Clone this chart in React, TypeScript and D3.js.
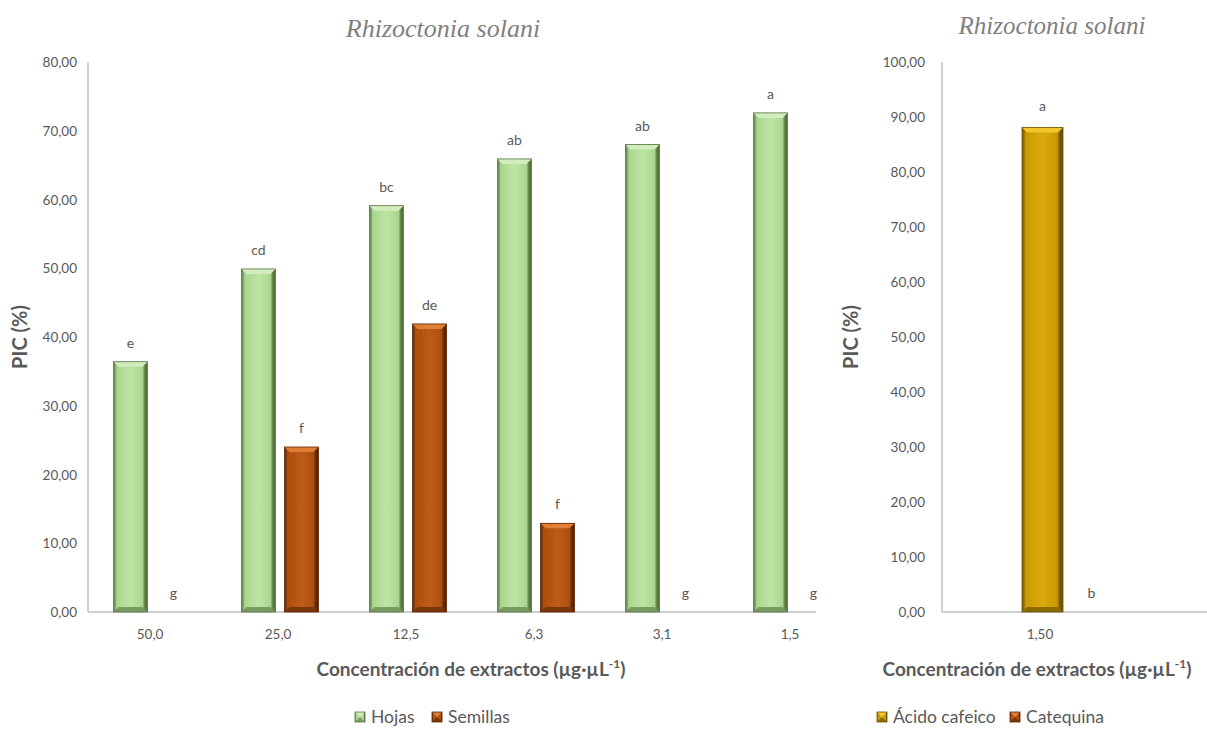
import React from "react";
import * as d3 from "d3";

const categories = ["50,0", "25,0", "12,5", "6,3", "3,1", "1,5"];
const hojas = [36.4, 49.9, 59.1, 65.9, 68.0, 72.6];
const semillas = [0, 24.0, 41.9, 12.9, 0, 0];
const hojasLabels = ["e", "cd", "bc", "ab", "ab", "a"];
const semillasLabels = ["g", "f", "de", "f", "g", "g"];
const leftTicks = [0, 10, 20, 30, 40, 50, 60, 70, 80];

const rightCategories = ["1,50"];
const acido = [88.1];
const catequina = [0];
const acidoLabels = ["a"];
const catequinaLabels = ["b"];
const rightTicks = [0, 10, 20, 30, 40, 50, 60, 70, 80, 90, 100];

const SANS = "Lato, 'Open Sans', sans-serif";
const GRAY = "#595959";

type Pal = { id: string; main: string; light: string; dark: string; top: string; bottom: string };
const green: Pal = { id: "g", main: "#a9d78e", light: "#bfe3a6", dark: "#55753f", top: "#d2ecbf", bottom: "#7a9c63" };
const brown: Pal = { id: "b", main: "#ad4e0e", light: "#bd5c18", dark: "#5a2604", top: "#e07e36", bottom: "#7a3508" };
const gold: Pal = { id: "o", main: "#c99a02", light: "#d9a90e", dark: "#6e5300", top: "#f2c52a", bottom: "#8c6a00" };

function Grad({ p }: { p: Pal }) {
  return (
    <linearGradient id={"grad-" + p.id} x1="0" x2="1" y1="0" y2="0">
      <stop offset="0" stopColor={p.dark} />
      <stop offset="0.1" stopColor={p.main} />
      <stop offset="0.5" stopColor={p.light} />
      <stop offset="0.85" stopColor={p.main} />
      <stop offset="0.93" stopColor={p.dark} />
      <stop offset="1" stopColor={p.dark} />
    </linearGradient>
  );
}

function BevelBar({ x, y, w, h, p }: { x: number; y: number; w: number; h: number; p: Pal }) {
  if (h <= 0) return null;
  const b = Math.min(5, h / 2);
  return (
    <g>
      <rect x={x} y={y} width={w} height={h} fill={`url(#grad-${p.id})`} />
      <polygon points={`${x},${y} ${x + w},${y} ${x + w - b},${y + b} ${x + b},${y + b}`} fill={p.top} />
      <polygon points={`${x},${y + h} ${x + w},${y + h} ${x + w - b},${y + h - b} ${x + b},${y + h - b}`} fill={p.bottom} />
      <rect x={x} y={y} width={w} height={h} fill="none" stroke={p.dark} strokeWidth={0.8} />
    </g>
  );
}

function LegendSwatch({ x, y, p }: { x: number; y: number; p: Pal }) {
  return <BevelBar x={x} y={y} w={10} h={10} p={p} />;
}

function XTitle({ x, y }: { x: number; y: number }) {
  return (
    <text x={x} y={y} textAnchor="middle" fontFamily={SANS} fontWeight="bold" fontSize={19} fill={GRAY}>
      Concentración de extractos (µg·µL
      <tspan fontSize={12} dy={-8}>-1</tspan>
      <tspan dy={8}>)</tspan>
    </text>
  );
}

export default function App() {
  const top = 62;
  const bottom = 612;

  // Left chart
  const yL = d3.scaleLinear().domain([0, 80]).range([bottom, top]);
  const x0 = d3.scaleBand<string>().domain(categories).range([88, 856]);
  const x1 = d3.scaleBand<string>().domain(["Hojas", "Semillas"]).range([-38.5, 38.5]).paddingInner(0.2093);

  // Right chart
  const yR = d3.scaleLinear().domain([0, 100]).range([bottom, top]);
  const r0 = d3.scaleBand<string>().domain(rightCategories).range([942, 1138]);
  const r1 = d3.scaleBand<string>().domain(["Acido", "Catequina"]).range([-18, 72]).paddingInner(0.163);

  const fmt = (v: number) => v.toFixed(2).replace(".", ",");
  const serif = "'Liberation Serif', 'Times New Roman', serif";

  return (
    <svg width={1207} height={732} style={{ position: "absolute", left: 0, top: 0, background: "#fff" }}>
      <defs>
        <Grad p={green} />
        <Grad p={brown} />
        <Grad p={gold} />
      </defs>
      <rect x={0} y={0} width={1207} height={732} fill="#fff" />

      {/* ---------- Left chart ---------- */}
      <text x={443} y={37} textAnchor="middle" fontFamily={serif} fontStyle="italic" fontSize={26} fill="#7f7f7f">
        Rhizoctonia solani
      </text>
      <line x1={88} x2={88} y1={top} y2={bottom} stroke="#bfbfbf" strokeWidth={1.5} />
      <line x1={88} x2={816} y1={bottom} y2={bottom} stroke="#bfbfbf" strokeWidth={1.5} />
      {leftTicks.map((t) => (
        <text key={t} x={77} y={yL(t) + 5} textAnchor="end" fontFamily={SANS} fontSize={13.5} fill={GRAY}>
          {fmt(t)}
        </text>
      ))}
      {categories.map((c, i) => {
        const cx = x0(c)! + x0.bandwidth() / 2;
        const hx = cx + x1("Hojas")!;
        const sx = cx + x1("Semillas")!;
        const bw = x1.bandwidth();
        return (
          <g key={c}>
            <BevelBar x={hx} y={yL(hojas[i])} w={bw} h={bottom - yL(hojas[i])} p={green} />
            <BevelBar x={sx} y={yL(semillas[i])} w={bw} h={bottom - yL(semillas[i])} p={brown} />
            <text x={hx + bw / 2} y={yL(hojas[i]) - 14} textAnchor="middle" fontFamily={SANS} fontSize={14} fill={GRAY}>
              {hojasLabels[i]}
            </text>
            <text x={sx + bw / 2} y={yL(semillas[i]) - 14} textAnchor="middle" fontFamily={SANS} fontSize={14} fill={GRAY}>
              {semillasLabels[i]}
            </text>
            <text x={cx - 2} y={bottom + 27} textAnchor="middle" fontFamily={SANS} fontSize={13.5} fill={GRAY}>
              {c}
            </text>
          </g>
        );
      })}
      <text transform={`translate(27,${(top + bottom) / 2}) rotate(-90)`} textAnchor="middle" fontFamily={SANS} fontWeight="bold" fontSize={20} fill={GRAY}>
        PIC (%)
      </text>
      <XTitle x={471} y={676} />
      <LegendSwatch x={355} y={712} p={green} />
      <text x={371} y={723} fontFamily={SANS} fontSize={17.5} fill={GRAY}>Hojas</text>
      <LegendSwatch x={432} y={712} p={brown} />
      <text x={448} y={723} fontFamily={SANS} fontSize={17.5} fill={GRAY}>Semillas</text>

      {/* ---------- Right chart ---------- */}
      <text x={1052} y={34} textAnchor="middle" fontFamily={serif} fontStyle="italic" fontSize={25} fill="#7f7f7f">
        Rhizoctonia solani
      </text>
      <line x1={942} x2={942} y1={top} y2={bottom} stroke="#bfbfbf" strokeWidth={1.5} />
      <line x1={942} x2={1207} y1={bottom} y2={bottom} stroke="#bfbfbf" strokeWidth={1.5} />
      {rightTicks.map((t) => (
        <text key={t} x={925} y={yR(t) + 5} textAnchor="end" fontFamily={SANS} fontSize={13.5} fill={GRAY}>
          {fmt(t)}
        </text>
      ))}
      {rightCategories.map((c, i) => {
        const cx = r0(c)! + r0.bandwidth() / 2;
        const ax = cx + r1("Acido")!;
        const qx = cx + r1("Catequina")!;
        const bw = r1.bandwidth();
        return (
          <g key={c}>
            <BevelBar x={ax} y={yR(acido[i])} w={bw} h={bottom - yR(acido[i])} p={gold} />
            <BevelBar x={qx} y={yR(catequina[i])} w={bw} h={bottom - yR(catequina[i])} p={brown} />
            <text x={ax + bw / 2} y={yR(acido[i]) - 16} textAnchor="middle" fontFamily={SANS} fontSize={14} fill={GRAY}>
              {acidoLabels[i]}
            </text>
            <text x={qx + bw / 2} y={yR(catequina[i]) - 14} textAnchor="middle" fontFamily={SANS} fontSize={14} fill={GRAY}>
              {catequinaLabels[i]}
            </text>
            <text x={cx} y={bottom + 27} textAnchor="middle" fontFamily={SANS} fontSize={13.5} fill={GRAY}>
              {c}
            </text>
          </g>
        );
      })}
      <text transform={`translate(858,${(top + bottom) / 2}) rotate(-90)`} textAnchor="middle" fontFamily={SANS} fontWeight="bold" fontSize={20} fill={GRAY}>
        PIC (%)
      </text>
      <XTitle x={1037} y={676} />
      <LegendSwatch x={877} y={712} p={gold} />
      <text x={893} y={723} fontFamily={SANS} fontSize={17.5} fill={GRAY}>Ácido cafeico</text>
      <LegendSwatch x={1010} y={712} p={brown} />
      <text x={1026} y={723} fontFamily={SANS} fontSize={17.5} fill={GRAY}>Catequina</text>
    </svg>
  );
}
